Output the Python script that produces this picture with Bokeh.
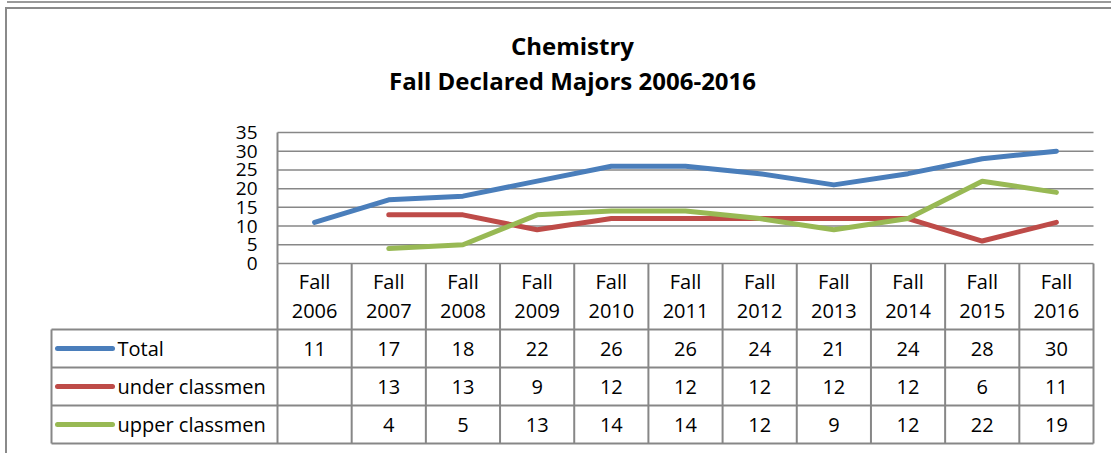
from bokeh.plotting import figure
from bokeh.models import Range1d, FixedTicker, ColumnDataSource, Title
from bokeh.embed import file_html
from bokeh.resources import INLINE
from bokeh.core.properties import value

# ---------------- data ----------------
years = ["2006", "2007", "2008", "2009", "2010", "2011", "2012", "2013", "2014", "2015", "2016"]
categories = ["Fall " + y for y in years]
total = [11, 17, 18, 22, 26, 26, 24, 21, 24, 28, 30]
under_classmen = [None, 13, 13, 9, 12, 12, 12, 12, 12, 6, 11]
upper_classmen = [None, 4, 5, 13, 14, 14, 12, 9, 12, 22, 19]
series_names = ["Total", "under classmen", "upper classmen"]
series_values = [total, under_classmen, upper_classmen]
series_colors = ["#4A7EBB", "#BE4B48", "#98B954"]
y_ticks = [0, 5, 10, 15, 20, 25, 30, 35]
title_line1 = "Chemistry"
title_line2 = "Fall Declared Majors 2006-2016"

# ---------------- styling / layout ----------------
W, H = 1104, 444
FONT = "Open Sans"
GRID = "#878787"
n = len(categories)
col_w = 816 / n            # px per category column
leg_w = 226 / col_w        # legend column width (category units)
xpad = 2 / col_w
u = 35 / 131               # value units per px (vertical)
header_h = 66 * u
row_h = 38 * u
table_h = header_h + 3 * row_h

def nan(v):
    return float("nan") if v is None else v

p = figure(width=W, height=H,
           x_range=Range1d(-leg_w - xpad, n + xpad),
           y_range=Range1d(-table_h - 2 * u, 35 + 12 * u),
           x_axis_location=None, y_axis_location="left",
           output_backend="svg", toolbar_location=None, title=title_line1,
           min_border_left=42, min_border_right=16, min_border_top=111, min_border_bottom=8)
p.outline_line_color = None
p.background_fill_color = "white"
p.border_fill_color = "white"
p.grid.visible = False
p.styles = {"margin-left": "7px", "margin-top": "9px",
            "outline": "2px solid #8a8a8a",
            "box-shadow": "0 -6px 0 0 white, 0 -8px 0 0 #9a9a9a"}

p.title.align = "center"
p.title.text_font = FONT
p.title.text_font_size = "24px"
p.title.text_font_style = "bold"
p.title.text_color = "black"
p.title.standoff = -46
t2 = Title(text=title_line2, align="center", text_font=FONT, text_font_size="24px",
           text_font_style="bold", text_color="black", standoff=47)
p.add_layout(t2, "above")

ax = p.yaxis[0]
ax.fixed_location = 0
ax.bounds = (0, 35)
ax.ticker = FixedTicker(ticks=y_ticks)
ax.axis_line_color = GRID
ax.axis_line_width = 2
ax.major_tick_line_color = None
ax.minor_tick_line_color = None
ax.major_tick_out = 0
ax.major_tick_in = 0
ax.major_label_standoff = 20
ax.major_label_text_font = FONT
ax.major_label_text_font_size = "19px"
ax.major_label_text_color = "black"

xs = [i + 0.5 for i in range(n)]

# horizontal gridlines of the chart
p.segment(x0=[0] * len(y_ticks), y0=y_ticks, x1=[n] * len(y_ticks), y1=y_ticks,
          line_color=GRID, line_width=1.5)

# series lines
for vals, col in zip(series_values, series_colors):
    src = ColumnDataSource(dict(x=xs, y=[nan(v) for v in vals], cat=categories))
    p.line("x", "y", source=src, line_color=col, line_width=5, line_cap="round", line_join="round")

# ---------- data table ----------
vx = list(range(n + 1))
p.segment(x0=vx, y0=[0] * len(vx), x1=vx, y1=[-table_h] * len(vx), line_color=GRID, line_width=2)
p.segment(x0=[-leg_w], y0=[-header_h], x1=[-leg_w], y1=[-table_h], line_color=GRID, line_width=2)
hy = [-header_h - k * row_h for k in range(4)]
p.segment(x0=[-leg_w] * 4, y0=hy, x1=[n] * 4, y1=hy, line_color=GRID, line_width=2)

p.text(x=xs, y=[-18 * u] * n, text=["Fall"] * n, text_align="center", text_baseline="middle",
       text_font=value(FONT), text_font_size="20px", text_color="black")
p.text(x=xs, y=[-47 * u] * n, text=years, text_align="center", text_baseline="middle",
       text_font=value(FONT), text_font_size="20px", text_color="black")

for k, (name, vals, col) in enumerate(zip(series_names, series_values, series_colors)):
    yc = -header_h - (k + 0.5) * row_h
    p.segment(x0=[-leg_w + 6 / col_w], y0=[yc], x1=[-leg_w + 61 / col_w], y1=[yc],
              line_color=col, line_width=5, line_cap="round")
    p.text(x=[-leg_w + 66 / col_w], y=[yc], text=[name], text_align="left", text_baseline="middle",
           text_font=value(FONT), text_font_size="20px", text_color="black")
    pts = [(x, str(v)) for x, v in zip(xs, vals) if v is not None]
    p.text(x=[a for a, _ in pts], y=[yc] * len(pts), text=[b for _, b in pts],
           text_align="center", text_baseline="middle",
           text_font=value(FONT), text_font_size="20px", text_color="black")

open("out.html", "w").write(file_html(p, INLINE))
